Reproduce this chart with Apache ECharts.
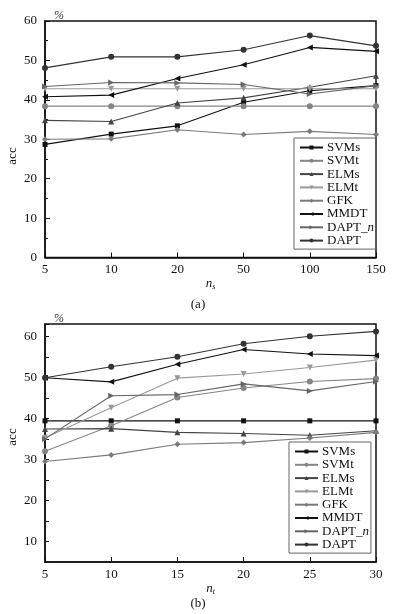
<!DOCTYPE html>
<html><head><meta charset="utf-8">
<script src="https://cdn.jsdelivr.net/npm/echarts@6/dist/echarts.min.js"></script>
<style>html,body{margin:0;padding:0;background:#fff}#c{width:396px;height:614px}</style>
</head><body><div id="c"></div>
<script>
const seriesNames = ['SVMs','SVMt','ELMs','ELMt','GFK','MMDT','DAPT_n','DAPT'];
const topCats = ['5','10','20','50','100','150'];
const topSVMs  = [28.7, 31.3, 33.4, 39.4, 42.3, 43.6];
const topSVMt  = [38.4, 38.4, 38.4, 38.4, 38.4, 38.4];
const topELMs  = [34.8, 34.5, 39.2, 40.5, 43.2, 46.1];
const topELMt  = [42.8, 42.8, 42.8, 42.8, 42.8, 42.8];
const topGFK   = [30.0, 30.1, 32.4, 31.2, 32.0, 31.2];
const topMMDT  = [40.8, 41.2, 45.4, 48.9, 53.3, 52.3];
const topDAPTn = [43.4, 44.4, 44.3, 43.9, 41.5, 43.6];
const topDAPT  = [48.1, 50.9, 50.9, 52.7, 56.3, 53.7];
const topYTicks = [0, 10, 20, 30, 40, 50, 60];

const botCats = ['5','10','15','20','25','30'];
const botSVMs  = [39.4, 39.4, 39.4, 39.4, 39.4, 39.4];
const botSVMt  = [32.0, 38.2, 45.1, 47.4, 49.0, 49.7];
const botELMs  = [37.4, 37.5, 36.6, 36.3, 35.9, 37.0];
const botELMt  = [35.3, 42.6, 49.8, 50.8, 52.4, 54.2];
const botGFK   = [29.5, 31.1, 33.7, 34.1, 35.2, 36.6];
const botMMDT  = [49.9, 48.9, 53.2, 56.8, 55.7, 55.3];
const botDAPTn = [35.0, 45.5, 45.8, 48.4, 46.7, 49.0];
const botDAPT  = [49.9, 52.6, 55.0, 58.2, 60.0, 61.2];
const botYTicks = [10, 20, 30, 40, 50, 60];

const styles = {
  SVMs:  {color:'#111', symbol:'rect', rot:0},
  SVMt:  {color:'#858585', symbol:'circle', rot:0},
  ELMs:  {color:'#444', symbol:'triangle', rot:0},
  ELMt:  {color:'#9a9a9a', symbol:'triangle', rot:180},
  GFK:   {color:'#7a7a7a', symbol:'diamond', rot:0},
  MMDT:  {color:'#111', symbol:'triangle', rot:90},
  DAPT_n:{color:'#666', symbol:'triangle', rot:-90},
  DAPT:  {color:'#333', symbol:'circle', rot:0}
};
const topData = [topSVMs, topSVMt, topELMs, topELMt, topGFK, topMMDT, topDAPTn, topDAPT];
const botData = [botSVMs, botSVMt, botELMs, botELMt, botGFK, botMMDT, botDAPTn, botDAPT];

const FONT = 'Liberation Serif';
function mk(name, data, idx){
  const s = styles[name];
  return {
    name, type:'line', xAxisIndex: idx, yAxisIndex: idx, data,
    symbol: s.symbol, symbolRotate: s.rot, symbolSize: s.symbol==='rect'?5:6,
    showAllSymbol: true,
    lineStyle:{color:s.color, width:1.1}, itemStyle:{color:s.color},
    animation:false
  };
}
const series = [];
seriesNames.forEach((n,i)=>series.push(mk(n, topData[i], 0)));
seriesNames.forEach((n,i)=>series.push(mk(n, botData[i], 1)));

function xAx(cats, gi, nm, gap){
  return {
    type:'category', data:cats, gridIndex:gi, boundaryGap:false,
    axisLine:{lineStyle:{color:'#111', width:1.5}},
    axisTick:{inside:true, length:5, lineStyle:{color:'#111'}},
    axisLabel:{color:'#111', fontFamily:FONT, fontSize:13, margin:6},
    name: nm, nameLocation:'middle', nameGap:gap,
    nameTextStyle:{fontFamily:FONT, fontSize:13, color:'#111', rich:{
      n:{fontFamily:FONT, fontStyle:'italic', fontSize:13, color:'#111'},
      s:{fontFamily:FONT, fontStyle:'italic', fontSize:8, color:'#111', verticalAlign:'bottom', padding:[6,0,0,0]}
    }}
  };
}
const legendItem = seriesNames.map(n => ({name:n}));
function leg(top, left){
  return {
    orient:'vertical', left, top, data: legendItem,
    itemWidth:23, itemHeight:5, itemGap:0.3,
    padding:[3,2,2,5],
    borderColor:'#666', borderWidth:1,
    textStyle:{fontFamily:FONT, fontSize:13, lineHeight:13, color:'#111', padding:[0,0,0,-1],
      rich:{i:{fontFamily:FONT, fontStyle:'italic', fontSize:13, lineHeight:13, color:'#111'}}},
    formatter: n => n === 'DAPT_n' ? 'DAPT_{i|n}' : n,
    selectedMode:false
  };
}
const accText = (y) => ({
  type:'text', x:13, y, rotation:Math.PI/2,
  style:{text:'acc', font:'13px "Liberation Serif"', fill:'#111', textAlign:'center', textVerticalAlign:'middle'}
});
const option = {
  animation:false,
  backgroundColor:'#fff',
  title:[
    {text:'%', left:49, top:5, textStyle:{fontFamily:FONT, fontStyle:'italic', fontSize:12, fontWeight:'normal', color:'#333'}},
    {text:'(a)', left:'center', top:293, textStyle:{fontFamily:FONT, fontSize:13, fontWeight:'normal', color:'#111'}},
    {text:'%', left:49, top:308, textStyle:{fontFamily:FONT, fontStyle:'italic', fontSize:12, fontWeight:'normal', color:'#333'}},
    {text:'(b)', left:'center', top:592, textStyle:{fontFamily:FONT, fontSize:13, fontWeight:'normal', color:'#111'}}
  ],
  graphic:[ accText(156), accText(437) ],
  grid:[
    {left:45, right:20, top:21, height:236.5, show:true, borderColor:'#111', borderWidth:1.5},
    {left:45, right:20, top:324, height:238, show:true, borderColor:'#111', borderWidth:1.5}
  ],
  xAxis:[ xAx(topCats, 0, '{n|n}{s|s}', 4), xAx(botCats, 1, '{n|n}{s|t}', 6) ],
  yAxis:[
    {type:'value', gridIndex:0, min:topYTicks[0], max:topYTicks[topYTicks.length-1], interval:10,
     axisLine:{show:true, lineStyle:{color:'#111', width:1.5}},
     axisTick:{show:true, inside:true, length:5, lineStyle:{color:'#111'}},
     minorTick:{show:true, splitNumber:2, length:3, lineStyle:{color:'#111'}},
     splitLine:{show:false},
     axisLabel:{color:'#111', fontFamily:FONT, fontSize:13, margin:8}},
    {type:'value', gridIndex:1, min:5, max:63, interval:5,
     axisLine:{show:true, lineStyle:{color:'#111', width:1.5}},
     axisTick:{show:true, inside:true, length:4, lineStyle:{color:'#111'}},
     splitLine:{show:false},
     axisLabel:{color:'#111', fontFamily:FONT, fontSize:13, margin:8,
       formatter: v => botYTicks.indexOf(v) >= 0 ? String(v) : ''}}
  ],
  legend:[ leg(138, 294), leg(442, 289) ],
  series
};
const chart = echarts.init(document.getElementById('c'), null, {renderer:'canvas'});
chart.setOption(option);
</script></body></html>
